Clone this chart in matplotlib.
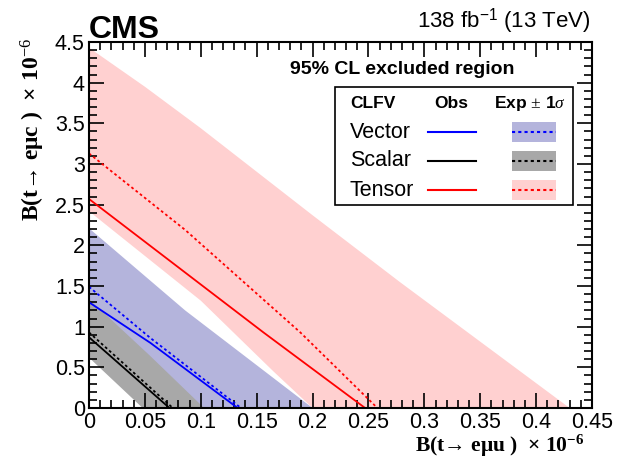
import matplotlib
matplotlib.use('Agg')
import matplotlib.pyplot as plt
from matplotlib.ticker import MultipleLocator, FormatStrFormatter
from matplotlib.lines import Line2D
from matplotlib.patches import Rectangle

plt.rcParams['font.family'] = ['Liberation Sans', 'DejaVu Sans']
plt.rcParams['mathtext.fontset'] = 'custom'
plt.rcParams['mathtext.rm'] = 'Liberation Serif'
plt.rcParams['mathtext.bf'] = 'Liberation Serif:bold'
plt.rcParams['mathtext.it'] = 'Liberation Serif:italic'

# --- data (x: B(t->emu u), y: B(t->emu c), both x 1e-6) ---
# expected +-1 sigma bands: upper and lower edges
tensor_up_x = [0, 0.05, 0.1, 0.2, 0.278, 0.43]
tensor_up_y = [4.43, 3.95, 3.44, 2.37, 1.55, 0]
tensor_lo_x = [0, 0.1, 0.165, 0.2]
tensor_lo_y = [2.42, 1.32, 0.45, 0]

vector_up_x = [0, 0.086, 0.2]
vector_up_y = [2.21, 1.2, 0]
vector_lo_x = [0, 0.08]
vector_lo_y = [1.0, 0]

scalar_up_x = [0, 0.054, 0.103]
scalar_up_y = [1.34, 0.65, 0]
scalar_lo_x = [0, 0.048]
scalar_lo_y = [0.62, 0]

# observed and expected limits
vector_obs_x = [0, 0.055, 0.133]
vector_obs_y = [1.30, 0.80, 0]
vector_exp_x = [0, 0.055, 0.136]
vector_exp_y = [1.49, 0.86, 0]

scalar_obs_x = [0, 0.072]
scalar_obs_y = [0.87, 0]
scalar_exp_x = [0, 0.075]
scalar_exp_y = [0.93, 0]

tensor_obs_x = [0, 0.156, 0.247]
tensor_obs_y = [2.57, 0.93, 0]
tensor_exp_x = [0, 0.086, 0.189, 0.258]
tensor_exp_y = [3.13, 2.19, 0.93, 0]

W, H = 623, 458
fig = plt.figure(figsize=(W / 100, H / 100), dpi=100)

def fx(p):
    return p / W

def fy(p):
    return 1 - p / H

ax = fig.add_axes([fx(89), fy(408), fx(592) - fx(89), fy(42) - fy(408)])

def band(xu, yu, xl, yl, color):
    px = list(xu) + list(xl[::-1])
    py = list(yu) + list(yl[::-1])
    ax.fill(px, py, color=color, lw=0)

pink = '#ffd0d0'
bluef = '#b4b4dc'
greyf = '#a8a8a8'
band(tensor_up_x, tensor_up_y, tensor_lo_x, tensor_lo_y, pink)
band(vector_up_x, vector_up_y, vector_lo_x, vector_lo_y, bluef)
band(scalar_up_x, scalar_up_y, scalar_lo_x, scalar_lo_y, greyf)

dash = (0, (1.5, 1.5))
ax.plot(tensor_exp_x, tensor_exp_y, color='red', lw=1.3, ls=dash)
ax.plot(tensor_obs_x, tensor_obs_y, color='red', lw=1.3)
ax.plot(vector_exp_x, vector_exp_y, color='blue', lw=1.3, ls=dash)
ax.plot(vector_obs_x, vector_obs_y, color='blue', lw=1.3)
ax.plot(scalar_exp_x, scalar_exp_y, color='black', lw=1.3, ls=dash)
ax.plot(scalar_obs_x, scalar_obs_y, color='black', lw=1.3)

ax.set_xlim(0, 0.45)
ax.set_ylim(0, 4.5)
ax.xaxis.set_major_locator(MultipleLocator(0.05))
ax.xaxis.set_minor_locator(MultipleLocator(0.01))
ax.yaxis.set_major_locator(MultipleLocator(0.5))
ax.yaxis.set_minor_locator(MultipleLocator(0.1))
ax.xaxis.set_major_formatter(FormatStrFormatter('%g'))
ax.yaxis.set_major_formatter(FormatStrFormatter('%g'))
ax.tick_params(which='both', direction='in', top=True, right=True, width=1.2)
ax.tick_params(which='major', length=11, labelsize=15.5, pad=3)
ax.tick_params(which='minor', length=5.5)
for s in ax.spines.values():
    s.set_linewidth(1.5)

serif = ['Liberation Serif', 'DejaVu Serif']
fig.text(fx(584), fy(452), 'B(t\u2192 e\u03bcu )  \u00d7 10$^{\\mathbf{-6}}$', family=serif,
         fontweight='bold', ha='right', va='baseline', fontsize=15.5)
fig.text(fx(33), fy(38), 'B(t\u2192 e\u03bcc )  \u00d7 10$^{-6}$', family=serif,
         fontweight='bold', ha='center', va='top', rotation=90, fontsize=17)

fig.text(fx(89), fy(38), 'CMS', fontsize=23, fontweight='bold', ha='left', va='baseline')
fig.text(fx(591), fy(28), r'138 fb$^{\mathregular{-1}}$ (13 TeV)', fontsize=16,
         ha='right', va='baseline')
fig.text(fx(290), fy(74), '95% CL excluded region', fontsize=14, fontweight='bold',
         ha='left', va='baseline')

# legend box
fig.patches.append(Rectangle((fx(335), fy(205)), fx(573) - fx(335), fy(87) - fy(205),
                             transform=fig.transFigure, fill=False, lw=1.2, ec='black'))
fig.text(fx(350), fy(108), 'CLFV', fontsize=12.5, fontweight='bold', va='baseline')
fig.text(fx(434), fy(108), 'Obs', fontsize=12.5, fontweight='bold', va='baseline')
fig.text(fx(494), fy(108), 'Exp $\\pm$ 1$\\sigma$', fontsize=12.5, fontweight='bold',
         va='baseline')
rows = [('Vector', 'blue', bluef, 132), ('Scalar', 'black', greyf, 161),
        ('Tensor', 'red', pink, 190)]
for name, lc, fc, yc in rows:
    fig.text(fx(350), fy(yc), name, fontsize=15.5, va='center')
    fig.lines.append(Line2D([fx(428), fx(476)], [fy(yc), fy(yc)], color=lc, lw=1.5,
                            transform=fig.transFigure))
    fig.patches.append(Rectangle((fx(512), fy(yc + 10)), fx(556) - fx(512), fy(yc - 10) - fy(yc + 10),
                                 transform=fig.transFigure, color=fc, lw=0))
    fig.lines.append(Line2D([fx(512), fx(556)], [fy(yc), fy(yc)], color=lc, lw=1.5,
                            ls=dash, transform=fig.transFigure))

fig.savefig('out.png', dpi=100)
